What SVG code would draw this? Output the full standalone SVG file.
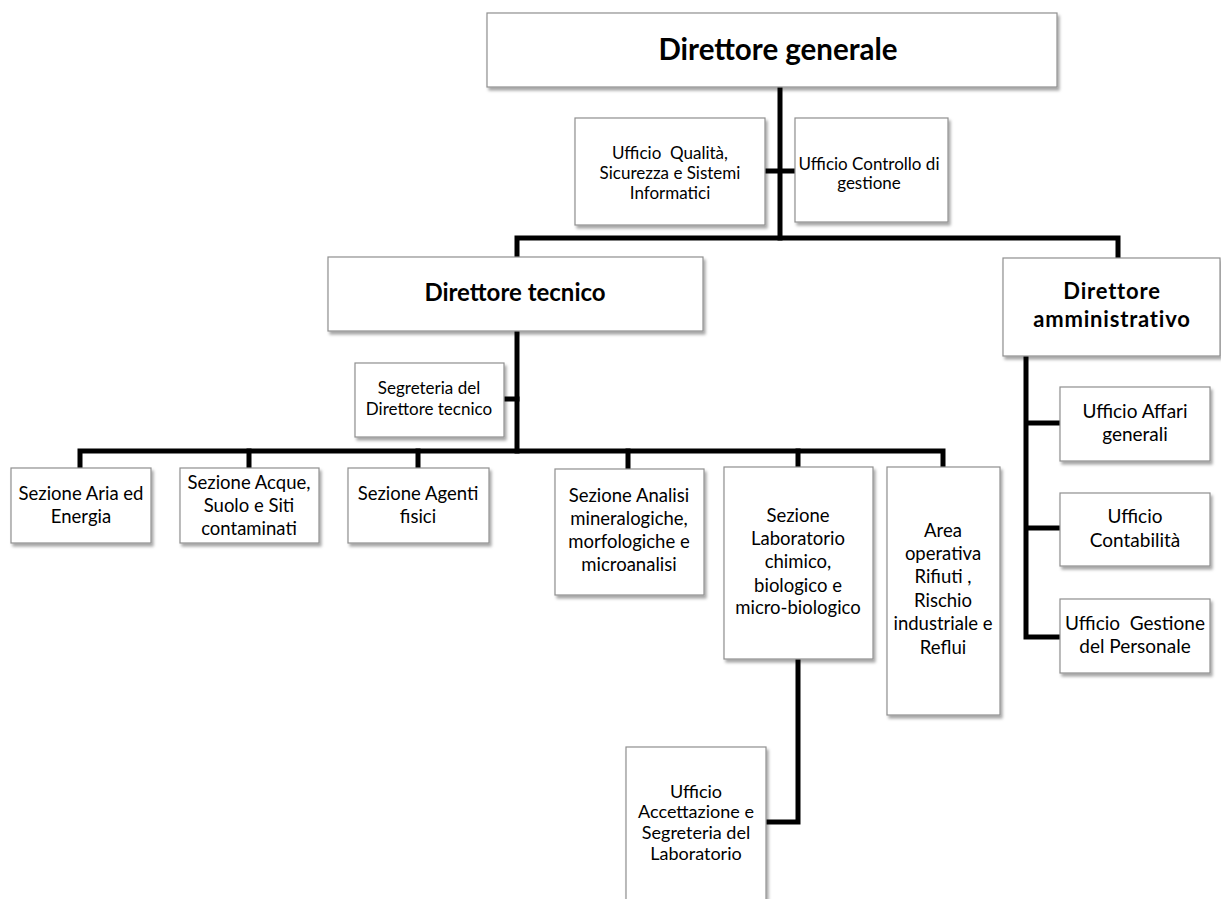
<svg xmlns="http://www.w3.org/2000/svg" width="1221" height="899" viewBox="0 0 1221 899">
<style>
.box{fill:#fff;stroke:#8f8f8f;stroke-width:1.2;filter:url(#sh)}
.t{font-family:Lato,"Liberation Sans",sans-serif;fill:#000;text-anchor:middle}
.s{font-size:17px}
.m{font-size:18.5px}
.u{font-size:19px}
.b{font-weight:bold}
.c{fill:none;stroke:#000;stroke-width:5;stroke-linecap:square;stroke-linejoin:miter}
</style>
<defs>
<filter id="sh" x="-10%" y="-10%" width="130%" height="130%">
<feDropShadow dx="2" dy="3" stdDeviation="1.5" flood-color="#000" flood-opacity="0.35"/>
</filter>
</defs>
<rect width="1221" height="899" fill="#fff"/>
<g id="connectors">
<path class="c" d="M780 88V238"/>
<path class="c" d="M765 171H795"/>
<path class="c" d="M517 256V238H1118V257"/>
<path class="c" d="M517 332V451"/>
<path class="c" d="M504 399H517"/>
<path class="c" d="M80 467V451H943V466"/>
<path class="c" d="M249 451V467M418 451V467M628 451V468M798 451V466"/>
<path class="c" d="M798 660V822H767"/>
<path class="c" d="M1026 357V637H1059M1026 423H1059M1026 528H1059"/>
</g>
<g id="n-dg"><rect class="box" x="487" y="13" width="570" height="74"/><text class="t b" x="778" y="60" font-size="29.5">Direttore generale</text></g>
<g id="n-qual"><rect class="box" x="575" y="118" width="190" height="107"/><text class="t s"><tspan x="670" y="159" xml:space="preserve">Ufficio  Qualità,</tspan><tspan x="670" y="179">Sicurezza e Sistemi</tspan><tspan x="670" y="199">Informatici</tspan></text></g>
<g id="n-ctrl"><rect class="box" x="795" y="118" width="153" height="104"/><text class="t s"><tspan x="869" y="170">Ufficio Controllo di</tspan><tspan x="869" y="189">gestione</tspan></text></g>
<g id="n-dt"><rect class="box" x="328" y="257" width="375" height="74"/><text class="t b" x="515" y="301" font-size="24">Direttore tecnico</text></g>
<g id="n-da"><rect class="box" x="1003" y="258" width="217" height="98"/><text class="t b" font-size="22" letter-spacing="0.8"><tspan x="1112" y="299">Direttore</tspan><tspan x="1112" y="327">amministrativo</tspan></text></g>
<g id="n-segr"><rect class="box" x="355" y="363" width="149" height="74"/><text class="t s"><tspan x="429" y="394">Segreteria del</tspan><tspan x="429" y="415">Direttore tecnico</tspan></text></g>
<g id="n-aria"><rect class="box" x="11" y="468" width="140" height="75"/><text class="t m"><tspan x="81" y="500">Sezione Aria ed</tspan><tspan x="81" y="523">Energia</tspan></text></g>
<g id="n-acque"><rect class="box" x="180" y="468" width="139" height="75"/><text class="t m"><tspan x="249" y="489">Sezione Acque,</tspan><tspan x="249" y="512">Suolo e Siti</tspan><tspan x="249" y="535">contaminati</tspan></text></g>
<g id="n-agenti"><rect class="box" x="348" y="468" width="141" height="75"/><text class="t m"><tspan x="418" y="500">Sezione Agenti</tspan><tspan x="418" y="523">fisici</tspan></text></g>
<g id="n-analisi"><rect class="box" x="555" y="469" width="149" height="126"/><text class="t m"><tspan x="629" y="502">Sezione Analisi</tspan><tspan x="629" y="525">mineralogiche,</tspan><tspan x="629" y="548">morfologiche e</tspan><tspan x="629" y="571">microanalisi</tspan></text></g>
<g id="n-lab"><rect class="box" x="724" y="467" width="149" height="192"/><text class="t m"><tspan x="798" y="522">Sezione</tspan><tspan x="798" y="545">Laboratorio</tspan><tspan x="798" y="568">chimico,</tspan><tspan x="798" y="592">biologico e</tspan><tspan x="798" y="614">micro-biologico</tspan></text></g>
<g id="n-area"><rect class="box" x="887" y="467" width="113" height="248"/><text class="t m"><tspan x="943" y="537">Area</tspan><tspan x="943" y="560">operativa</tspan><tspan x="943" y="583">Rifiuti ,</tspan><tspan x="943" y="607">Rischio</tspan><tspan x="943" y="630">industriale e</tspan><tspan x="943" y="654">Reflui</tspan></text></g>
<g id="n-acc"><rect class="box" x="626" y="747" width="140" height="170"/><text class="t" font-size="18"><tspan x="696" y="798">Ufficio</tspan><tspan x="696" y="818">Accettazione e</tspan><tspan x="696" y="839">Segreteria del</tspan><tspan x="696" y="860">Laboratorio</tspan></text></g>
<g id="n-affari"><rect class="box" x="1060" y="387" width="150" height="74"/><text class="t u"><tspan x="1135" y="418">Ufficio Affari</tspan><tspan x="1135" y="441">generali</tspan></text></g>
<g id="n-cont"><rect class="box" x="1060" y="493" width="150" height="73"/><text class="t u"><tspan x="1135" y="523">Ufficio</tspan><tspan x="1135" y="547">Contabilità</tspan></text></g>
<g id="n-pers"><rect class="box" x="1060" y="599" width="150" height="74"/><text class="t u"><tspan x="1135" y="630" xml:space="preserve">Ufficio  Gestione</tspan><tspan x="1135" y="653">del Personale</tspan></text></g>
</svg>
